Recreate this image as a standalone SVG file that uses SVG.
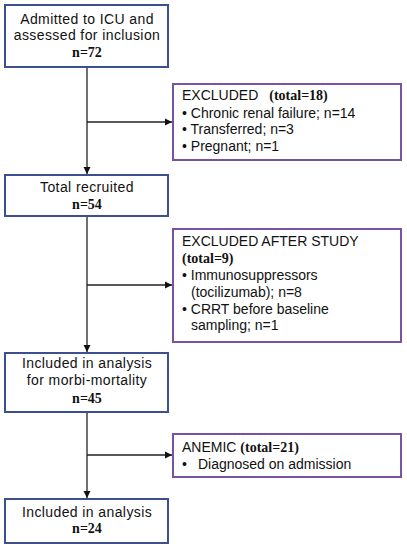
<svg xmlns="http://www.w3.org/2000/svg" width="407" height="550" viewBox="0 0 407 550">
<style>
.main{fill:#fff;stroke:#3c4f8f;stroke-width:2}
.side{fill:#fff;stroke:#7b52a3;stroke-width:2}
.t{font-family:"Liberation Sans",Arial,sans-serif;font-size:14px;fill:#111}
.c{text-anchor:middle;letter-spacing:0.4px}
.b{font-family:"Liberation Serif","Times New Roman",serif;font-weight:bold;font-size:14px;fill:#111}
.ln{stroke:#222;stroke-width:1.3;fill:none}
</style>
<defs>
<marker id="ah" markerWidth="8" markerHeight="8" refX="7" refY="4" orient="auto" markerUnits="userSpaceOnUse">
<path d="M0,0.5 L7,4 L0,7.5 Z" fill="#111"/>
</marker>
</defs>
<g id="connectors">
<line class="ln" x1="87" y1="67" x2="87" y2="174" marker-end="url(#ah)"/>
<line class="ln" x1="87" y1="122" x2="172" y2="122" marker-end="url(#ah)"/>
<line class="ln" x1="87" y1="216" x2="87" y2="352" marker-end="url(#ah)"/>
<line class="ln" x1="87" y1="285" x2="172" y2="285" marker-end="url(#ah)"/>
<line class="ln" x1="87" y1="412" x2="87" y2="498" marker-end="url(#ah)"/>
<line class="ln" x1="87" y1="455" x2="172" y2="455" marker-end="url(#ah)"/>
</g>
<g id="admitted">
<rect class="main" x="5" y="5" width="163" height="62"/>
<text class="t c" x="87" y="24">Admitted to ICU and</text>
<text class="t c" x="87" y="40">assessed for inclusion</text>
<text class="b" x="87" y="57" text-anchor="middle">n=72</text>
</g>
<g id="excluded1">
<rect class="side" x="173" y="84" width="228" height="76"/>
<text class="t" x="182" y="100">EXCLUDED<tspan class="b" dx="11">(total=18)</tspan></text>
<text class="t" x="182" y="118">• Chronic renal failure; n=14</text>
<text class="t" x="182" y="134">• Transferred; n=3</text>
<text class="t" x="182" y="151">• Pregnant; n=1</text>
</g>
<g id="recruited">
<rect class="main" x="5" y="175" width="163" height="41"/>
<text class="t c" x="87" y="192">Total recruited</text>
<text class="b" x="87" y="209" text-anchor="middle">n=54</text>
</g>
<g id="excluded2">
<rect class="side" x="173" y="229" width="228" height="113"/>
<text class="t" x="182" y="246">EXCLUDED AFTER STUDY</text>
<text class="b" x="182" y="263">(total=9)</text>
<text class="t" x="182" y="280">• Immunosuppressors</text>
<text class="t" x="191" y="297">(tocilizumab); n=8</text>
<text class="t" x="182" y="314">• CRRT before baseline</text>
<text class="t" x="191" y="330">sampling; n=1</text>
</g>
<g id="morbi">
<rect class="main" x="5" y="353" width="163" height="59"/>
<text class="t c" x="87" y="368">Included in analysis</text>
<text class="t c" x="87" y="385">for morbi-mortality</text>
<text class="b" x="87" y="403" text-anchor="middle">n=45</text>
</g>
<g id="anemic">
<rect class="side" x="173" y="434" width="228" height="43"/>
<text class="t" x="182" y="452">ANEMIC <tspan class="b">(total=21)</tspan></text>
<text class="t" x="182" y="469">•<tspan dx="11">Diagnosed on admission</tspan></text>
</g>
<g id="final">
<rect class="main" x="5" y="499" width="163" height="44"/>
<text class="t c" x="87" y="517">Included in analysis</text>
<text class="b" x="87" y="533" text-anchor="middle">n=24</text>
</g>
</svg>
